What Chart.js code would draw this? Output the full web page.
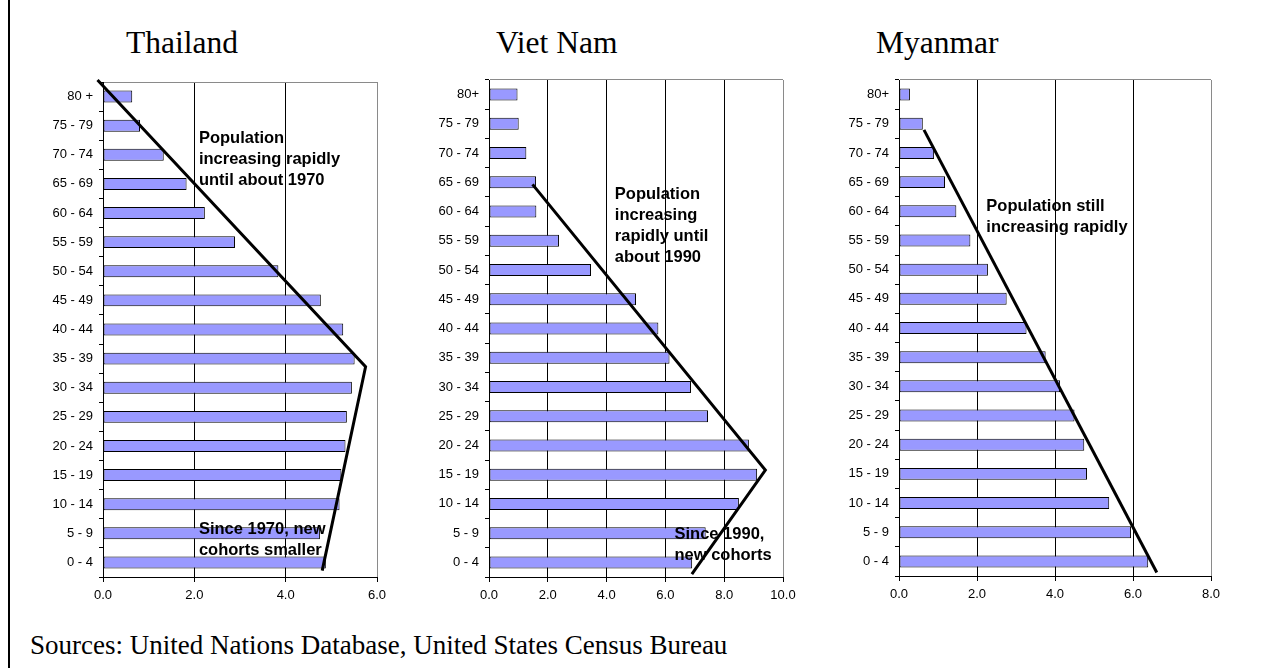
<!DOCTYPE html>
<html>
<head>
<meta charset="utf-8">
<script src="https://cdn.jsdelivr.net/npm/chart.js@4.4.0/dist/chart.umd.min.js"></script>
<style>
  html, body { margin: 0; padding: 0; background: #fff; }
  body { width: 1272px; height: 668px; position: relative; overflow: hidden; }
  .frame { position: absolute; left: 8px; top: 0; width: 2px; height: 668px; background: #000; }
  .title { position: absolute; font-family: 'Liberation Serif', 'Times New Roman', serif; font-size: 31.5px; line-height: 31.5px; color: #000; white-space: nowrap; }
  .source { position: absolute; font-family: 'Liberation Serif', 'Times New Roman', serif; font-size: 27px; line-height: 27px; color: #000; white-space: nowrap; }
  canvas { position: absolute; }
</style>
</head>
<body>
<div class="frame"></div>
<div class="title" style="left:126px;top:27px;">Thailand</div>
<div class="title" style="left:496px;top:27px;">Viet Nam</div>
<div class="title" style="left:876px;top:27px;">Myanmar</div>
<canvas id="thai"></canvas>
<canvas id="vn"></canvas>
<canvas id="mm"></canvas>
<div class="source" style="left:30px;top:632px;">Sources: United Nations Database, United States Census Bureau</div>

<script>
// Age groups, oldest at the top
const thaiAges = ['80 +', '75 - 79', '70 - 74', '65 - 69', '60 - 64', '55 - 59', '50 - 54', '45 - 49',
  '40 - 44', '35 - 39', '30 - 34', '25 - 29', '20 - 24', '15 - 19', '10 - 14', '5 - 9', '0 - 4'];
const vnAges = ['80+', '75 - 79', '70 - 74', '65 - 69', '60 - 64', '55 - 59', '50 - 54', '45 - 49',
  '40 - 44', '35 - 39', '30 - 34', '25 - 29', '20 - 24', '15 - 19', '10 - 14', '5 - 9', '0 - 4'];
const mmAges = vnAges;

// Share of population in each age group (%)
const thaiValues = [0.64, 0.81, 1.33, 1.83, 2.23, 2.89, 3.84, 4.77, 5.26, 5.51, 5.45, 5.34, 5.31, 5.22, 5.18, 4.75, 4.88];
const vnValues   = [0.97, 1.01, 1.27, 1.60, 1.61, 2.38, 3.47, 5.00, 5.76, 6.14, 6.87, 7.45, 8.84, 9.12, 8.50, 7.37, 6.91];
const mmValues   = [0.28, 0.61, 0.90, 1.18, 1.47, 1.83, 2.28, 2.76, 3.27, 3.76, 4.13, 4.50, 4.75, 4.82, 5.39, 5.95, 6.39];

// Trend lines: percentage and age-row position (0 = top row, fractional between rows)
const thaiTrendX = [-0.12, 5.75, 4.80];
const thaiTrendRow = [-0.57, 9.28, 16.28];
const vnTrendX = [1.48, 9.40, 6.90];
const vnTrendRow = [3.07, 12.84, 16.40];
const mmTrendX = [0.64, 6.61];
const mmTrendRow = [1.21, 16.38];

// Axis maxima
const thaiXMax = 6;
const vnXMax = 10;
const mmXMax = 8;

// Notes written inside each chart
const thaiNotes = [
  { x: 2.10, row: 1.43, lines: ['Population', 'increasing rapidly', 'until about 1970'] },
  { x: 2.10, row: 14.85, lines: ['Since 1970, new', 'cohorts smaller'] }
];
const vnNotes = [
  { x: 4.28, row: 3.43, lines: ['Population', 'increasing', 'rapidly until', 'about 1990'] },
  { x: 6.31, row: 15.06, lines: ['Since 1990,', 'new cohorts'] }
];
const mmNotes = [
  { x: 2.24, row: 3.84, lines: ['Population still', 'increasing rapidly'] }
];

const SANS = "'Liberation Sans', Arial, Helvetica, sans-serif";

// Trend line and notes, placed through the chart's own x and y scales
function overlayPlugin(trendX, trendRow, notes) {
  return {
    id: 'overlay',
    afterDatasetsDraw(chart) {
      const c = chart.ctx;
      const xs = chart.scales.x;
      const ys = chart.scales.y;
      c.save();
      c.strokeStyle = '#000';
      c.lineWidth = 3;
      c.lineJoin = 'miter';
      c.lineCap = 'butt';
      c.beginPath();
      trendX.forEach((v, i) => {
        const px = xs.getPixelForValue(v);
        const py = ys.getPixelForValue(trendRow[i]);
        if (i === 0) c.moveTo(px, py); else c.lineTo(px, py);
      });
      c.stroke();

      c.font = 'bold 16.5px ' + SANS;
      c.fillStyle = '#000';
      c.textAlign = 'left';
      c.textBaseline = 'middle';
      notes.forEach(n => {
        const x = xs.getPixelForValue(n.x);
        const y0 = ys.getPixelForValue(n.row);
        n.lines.forEach((t, i) => c.fillText(t, x, y0 + i * 21));
      });
      c.restore();
    }
  };
}

function pyramid(id, area, labels, values, trendX, trendRow, xMax, notes) {
  const padL = 10, axisW = 80, padR = 25, padT = 20, axisH = 33;
  const cv = document.getElementById(id);
  const left = area.left - axisW - padL;
  const top = area.top - padT;
  cv.width = area.right + padR - left;
  cv.height = area.bottom + axisH - top;
  cv.style.left = left + 'px';
  cv.style.top = top + 'px';

  return new Chart(cv.getContext('2d'), {
    type: 'bar',
    data: {
      labels: labels,
      datasets: [{
        data: values,
        backgroundColor: '#9999ff',
        borderColor: '#000',
        borderWidth: 1,
        borderSkipped: false,
        barPercentage: 0.41,
        categoryPercentage: 1
      }]
    },
    options: {
      indexAxis: 'y',
      responsive: false,
      animation: false,
      devicePixelRatio: 1,
      events: [],
      layout: { padding: { left: padL, right: padR, top: padT, bottom: 0 } },
      plugins: { legend: { display: false }, tooltip: { enabled: false } },
      scales: {
        x: {
          type: 'linear',
          position: 'bottom',
          min: 0,
          max: xMax,
          ticks: {
            stepSize: 2,
            padding: 6,
            color: '#000',
            font: { family: SANS, size: 13 },
            callback: v => Number(v).toFixed(1)
          },
          grid: {
            color: c => (c.tick && c.tick.value === xMax) ? '#8a8a8a' : '#000',
            tickColor: '#000',
            tickLength: 5,
            lineWidth: 1
          },
          border: { color: '#000', width: 1 },
          afterFit: s => { s.height = axisH; }
        },
        y: {
          type: 'category',
          position: 'left',
          offset: true,
          ticks: {
            padding: 6,
            color: '#000',
            autoSkip: false,
            font: { family: SANS, size: 13 }
          },
          grid: {
            offset: true,
            drawOnChartArea: true,
            color: c => c.index === 0 ? '#8a8a8a' : 'rgba(0,0,0,0)',
            tickColor: '#000',
            tickLength: 4
          },
          border: { color: '#000', width: 1 },
          afterFit: s => { s.width = axisW; }
        }
      }
    },
    plugins: [overlayPlugin(trendX, trendRow, notes)]
  });
}

pyramid('thai', { left: 103, right: 377, top: 82, bottom: 577 }, thaiAges, thaiValues, thaiTrendX, thaiTrendRow, thaiXMax, thaiNotes);
pyramid('vn', { left: 489, right: 783, top: 80, bottom: 577 }, vnAges, vnValues, vnTrendX, vnTrendRow, vnXMax, vnNotes);
pyramid('mm', { left: 899, right: 1211, top: 80, bottom: 576 }, mmAges, mmValues, mmTrendX, mmTrendRow, mmXMax, mmNotes);
</script>
</body>
</html>
